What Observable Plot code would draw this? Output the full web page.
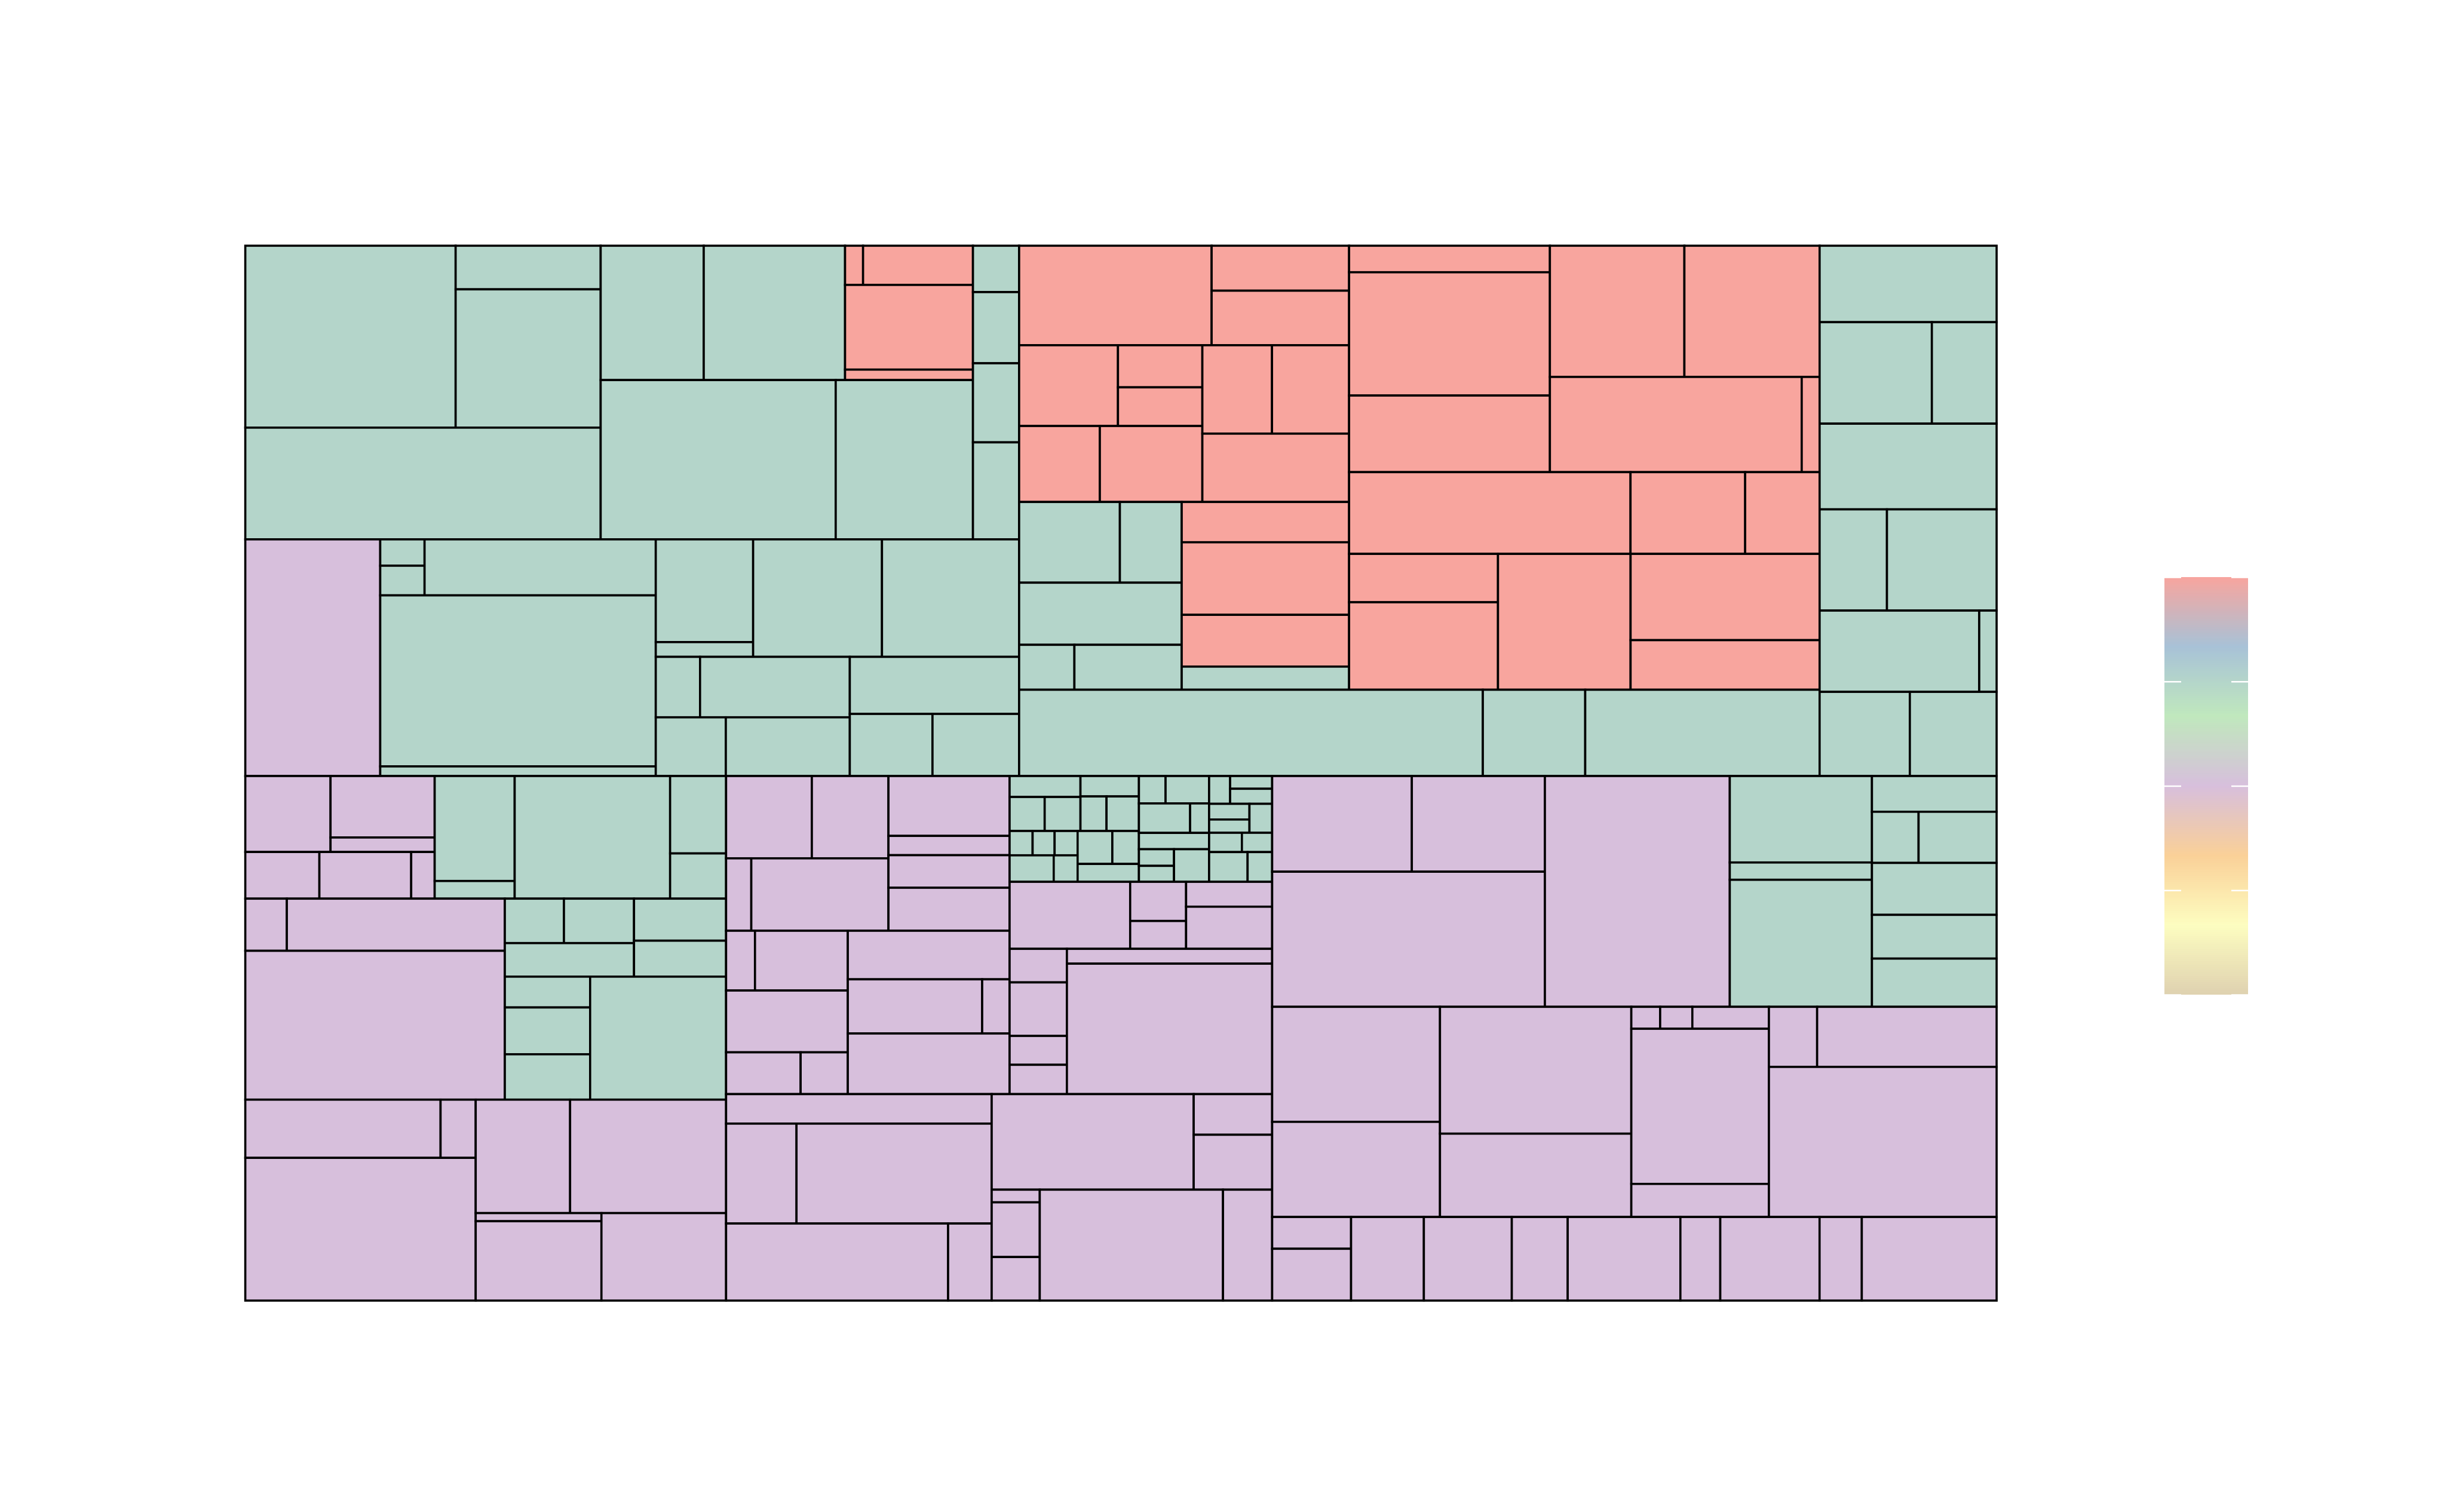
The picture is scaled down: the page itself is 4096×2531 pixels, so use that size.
<!DOCTYPE html>
<html><head><meta charset="utf-8">
<script src="https://cdn.jsdelivr.net/npm/d3@7"></script>
<script src="https://cdn.jsdelivr.net/npm/@observablehq/plot@0.6"></script>
<style>
html,body{margin:0;padding:0;background:#fff;}
body{width:4096px;height:2531px;position:relative;overflow:hidden;font-family:"Liberation Sans",sans-serif;}
#chart{position:absolute;left:0;top:0;}
#legend{position:absolute;left:3623px;top:966px;}
</style>
</head><body><div id="chart"></div><div id="legend"></div>
<script>
// Leaf tokens: letter = group (p / g / r), number = area value.
// Nested arrays alternate direction: even depth stacks vertically, odd depth side by side.
const blockA = [
  [ [["g1572",["g260","g824"]],"g1631"],
    [["g569","g780",[["r29","r177"],"r445","r55"]],["g1538","g898"]],
    ["g88","g135","g150","g184"] ],
  [ "p1312",
    [[["g48","g54"],"g532"],"g1936","g109"],
    [[["g411","g59"],"g622","g662"],[[["g110","g372"],["g169","g299"]],["g397",["g211","g221"]]]] ]
];
const blockB = [
  [ [ ["r787",["r254","r308"]],
      [ [["r328",["r146","r134"]],["r252","r320"]], [["r253","r280"],"r412"] ],
      [ [["g334","g205"],"g415",["g102","g198"]], ["r277","r499","r356","g159"] ] ],
    [ [ ["r219","r1017","r632"], [["r725","r729"],["r985","r70"]] ],
      ["r945","r385","r250"],
      [ ["r296","r535"],"r740",["r670","r385"] ] ] ],
  ["g1644","g363","g831"]
];
const blockC = ["g556",["g468","g270"],"g623",["g280","g456"],["g533","g58"],["g312","g300"]];
const blockD = [
  [ [ ["p266",["p263","p62"]], ["p142","p176","p45"] ], ["g345","g58"], "g783", ["g178","g104"] ],
  [ [ ["p89","p467"],"p1587" ],
    [ [ [["g108","g128"],"g178"], ["g159","g136"] ], [ ["g108","g164","g159"],"g687" ] ] ],
  [ [ ["p467","p84"],"p1351" ], [ ["p440","p727"], [ ["p42","p410"],"p448" ] ] ]
];
const blockE = [
  [ [ [ [ ["p290","p259"],["p75","p408"] ], ["p298","p96","p162","p214"] ],
      [ [ ["p71","p228"],"p309",["p128","p81"] ], [ "p323",["p299","p61"],"p403" ] ] ],
    [ [ [ [ ["g61",["g49","g50"]], ["g49",["g37","g46"]] ],
          [ [ ["g23","g22","g23"],["g48","g26"] ], [ ["g47","g36"],"g45" ] ] ],
        [ ["g30","g49"],["g62","g23"],"g47",[ ["g24","g23"],"g47" ] ],
        [ ["g24",["g22","g26"]], [ ["g26","g22"],"g27" ], ["g26","g24"], ["g47","g30"] ] ],
      [ "p332",["p90","p64"],["p88","p149"] ],
      [ ["p79","p126","p68","p69"], ["p125","p1100"] ] ] ],
  [ [ "p322",["p289","p801"],["p703","p138"] ],
    [ [ "p793",["p131","p177"] ], [ ["p25","p108","p86"],"p835","p224" ] ] ]
];
const blockF = [
  [ [ ["p549","p523"],"p1514" ], "p1753", ["g505","g101","g742"], ["g183",["g98","g164"],"g266","g224","g247"] ],
  [ ["p793","p656"], ["p997","p655"], [ ["p26","p29","p69"],"p877","p187" ], [ ["p119","p443"],"p1404" ] ],
  [ ["p103","p168"],"p250","p302","p192","p387","p137","p341","p145","p463" ]
];
const groupKeys = ["p","g","r"];
const groupScores = [2,3,4];
const legendColors = ["#dfd1b0","#fdfdc0","#fad098","#d7bfdc","#c0e8bd","#a8c2d7","#f8a59e"];
const legendTicks = [0,1,2,3,4];

const tree = [[blockA, blockB, blockC], [blockD, blockE, blockF]];
const root = d3.hierarchy(tree, d => Array.isArray(d) ? d : null)
  .sum(d => typeof d === "string" ? +d.slice(1) : 0);
d3.treemap().size([1000, 1000])
  .tile((node, x0, y0, x1, y1) => (node.depth % 2 === 0 ? d3.treemapSlice : d3.treemapDice)(node, x0, y0, x1, y1))(root);
const cells = root.leaves().map(n => ({x0: n.x0, x1: n.x1, y0: n.y0, y1: n.y1,
  score: groupScores[groupKeys.indexOf(n.data[0])]}));

const colorScale = {type: "linear", domain: [0, 4], interpolate: d3.piecewise(d3.interpolateRgb, legendColors)};

const chart = Plot.plot({
  width: 4096, height: 2531,
  marginLeft: 0, marginRight: 0, marginTop: 0, marginBottom: 0,
  style: {background: "#fff"},
  x: {domain: [0, 1000], range: [410.6, 3342.1], axis: null},
  y: {domain: [0, 1000], range: [411.3, 2177.1], axis: null},
  color: colorScale,
  marks: [
    Plot.rect(cells, {x1: "x0", x2: "x1", y1: "y0", y2: "y1", fill: "score", stroke: "#000", strokeWidth: 3.6})
  ]
});
document.getElementById("chart").appendChild(chart);

const steps = d3.range(0, 4, 0.02);
const legend = Plot.plot({
  width: 140, height: 699,
  marginLeft: 0, marginRight: 0, marginTop: 0, marginBottom: 0,
  x: {domain: [0, 1], range: [0, 140], axis: null},
  y: {domain: [0, 4], range: [699, 0], axis: null},
  color: colorScale,
  marks: [
    Plot.rect(steps, {x1: () => 0, x2: () => 1, y1: d => d, y2: d => Math.min(4, d + 0.03), fill: d => d + 0.01}),
    Plot.ruleY(legendTicks, {y: d => d, x1: () => 0, x2: () => 0.2, stroke: "#fff", strokeWidth: 2.5}),
    Plot.ruleY(legendTicks, {y: d => d, x1: () => 0.8, x2: () => 1, stroke: "#fff", strokeWidth: 2.5})
  ]
});
document.getElementById("legend").appendChild(legend);
</script></body></html>
